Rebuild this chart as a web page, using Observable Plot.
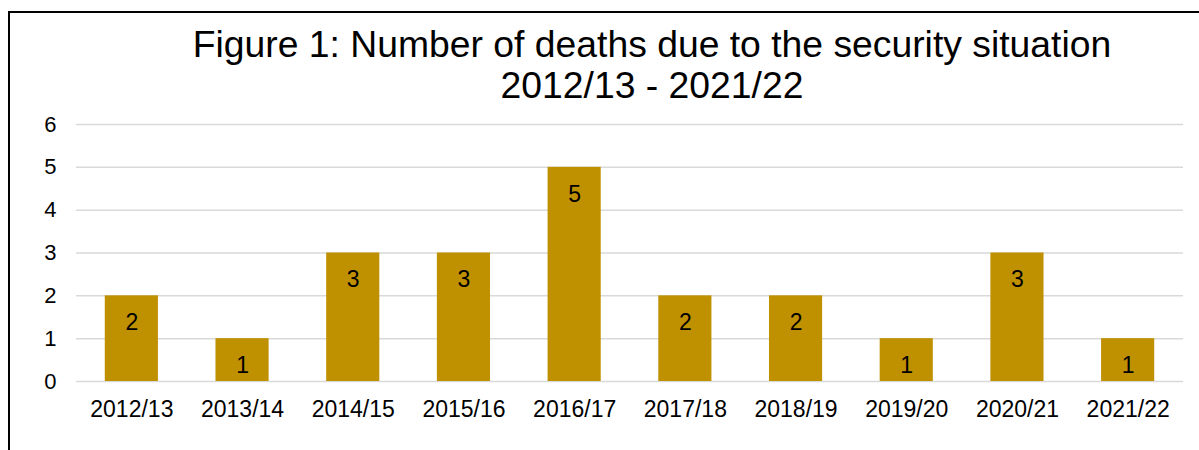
<!DOCTYPE html>
<html>
<head>
<meta charset="utf-8">
<script src="https://cdn.jsdelivr.net/npm/d3@7"></script>
<script src="https://cdn.jsdelivr.net/npm/@observablehq/plot@0.6"></script>
<style>
  body { margin: 0; background: #fff; font-family: "Liberation Sans", Arial, sans-serif; }
  #wrap { position: relative; width: 1199px; height: 450px; overflow: hidden; background: #fff; }
  #frame { position: absolute; left: 8px; top: 11px; width: 1300px; height: 600px;
           border-left: 2px solid #000; border-top: 2px solid #000; }
  #title { position: absolute; left: 152px; width: 1000px; top: 24px; text-align: center;
           font-size: 37.3px; line-height: 41px; color: #000; }
  #chart { position: absolute; left: 0; top: 0; }
  #chart svg { overflow: visible; }
</style>
</head>
<body>
<div id="wrap">
  <div id="frame"></div>
  <div id="title">Figure 1: Number of deaths due to the security situation<br>2012/13 - 2021/22</div>
  <div id="chart"></div>
</div>
<script>
const periods = ["2012/13","2013/14","2014/15","2015/16","2016/17","2017/18","2018/19","2019/20","2020/21","2021/22"];
const deaths = [2, 1, 3, 3, 5, 2, 2, 1, 3, 1];
const yTicks = [0, 1, 2, 3, 4, 5, 6];

const data = periods.map((p, i) => ({period: p, deaths: deaths[i]}));

const chart = Plot.plot({
  width: 1199,
  height: 450,
  marginLeft: 76,
  marginRight: 16,
  marginTop: 124,
  marginBottom: 69,
  style: {background: "transparent", fontFamily: "'Liberation Sans', Arial, sans-serif", color: "#000"},
  x: {domain: periods, paddingInner: 0.52, paddingOuter: 0.26, round: false, label: null},
  y: {domain: [0, 6], label: null},
  marks: [
    Plot.ruleY(yTicks, {stroke: "#d9d9d9", strokeWidth: 1.5}),
    Plot.barY(data, {x: "period", y: "deaths", fill: "#BF9000"}),
    Plot.text(data, {x: "period", y: "deaths", text: d => String(d.deaths), dy: 27, fill: "#000", fontSize: 23}),
    Plot.axisY({ticks: yTicks, tickSize: 0, tickPadding: 20, fontSize: 22, tickFormat: d => String(d), label: null}),
    Plot.axisX({tickSize: 0, tickPadding: 19, fontSize: 23, label: null})
  ]
});
document.getElementById("chart").appendChild(chart);
</script>
</body>
</html>
